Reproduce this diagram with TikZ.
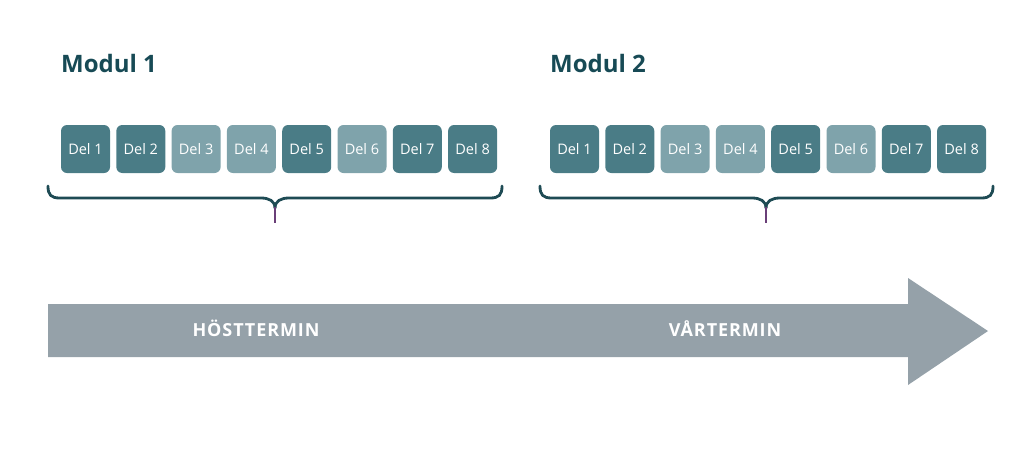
\documentclass[tikz,border=0pt]{standalone}
\usepackage{fontspec}
\setmainfont{Open Sans}
\newfontfamily\titlefont{Open Sans}
\newfontfamily\delfont{Open Sans}
\newfontfamily\termfont{Open Sans}[LetterSpace=5]
\definecolor{darkbox}{HTML}{4A7C86}
\definecolor{lightbox}{HTML}{7FA3AB}
\definecolor{titlecol}{HTML}{174A55}
\definecolor{bracecol}{HTML}{1E4B54}
\definecolor{bracetip}{HTML}{6A3F78}
\definecolor{arrowcol}{HTML}{95A1A9}
\begin{document}
\begin{tikzpicture}[x=1pt,y=-1pt,
  delbox/.style={rounded corners=6pt,minimum width=49pt,minimum height=48pt,inner sep=0pt,text=white,font=\delfont\fontsize{14.5}{15}\selectfont},
  dk/.style={delbox,fill=darkbox},
  lt/.style={delbox,fill=lightbox},
  title/.style={anchor=west,text=titlecol,font=\titlefont\bfseries\fontsize{24}{26}\selectfont,inner sep=0pt},
  term/.style={text=white,font=\termfont\bfseries\fontsize{18}{20}\selectfont,inner sep=0pt},
  bracepath/.style={draw=bracecol,line width=2.8pt,line cap=round}]
\useasboundingbox (0,0) rectangle (1023,451);
% titles
\node[title] (m1) at (61,63) {Modul 1};
\node[title] (m2) at (550,63) {Modul 2};
% boxes
\foreach \m/\xs in {a/85.5,b/574.5}{
  \foreach \i/\s in {1/dk,2/dk,3/lt,4/lt,5/dk,6/lt,7/dk,8/dk}{
    \node[\s] (\m\i) at ({\xs+(\i-1)*55.3},149) {Del \i};
  }
}
% braces
\foreach \l/\c/\r in {48/275/502, 540/766/993}{
  \draw[bracepath] (\l,186) .. controls (\l,195) and (\l+3,198) .. (\l+12,198)
     -- (\c-14,198) .. controls (\c-6,198) and (\c,201) .. (\c,208);
  \draw[bracepath] (\r,186) .. controls (\r,195) and (\r-3,198) .. (\r-12,198)
     -- (\c+14,198) .. controls (\c+6,198) and (\c,201) .. (\c,208);
  \draw[draw=bracetip,line width=2.8pt] (\c,207) -- (\c,223);
}
% arrow
\fill[arrowcol] (48,304) -- (908,304) -- (908,278) -- (988,331) -- (908,385) -- (908,357) -- (48,357) -- cycle;
\node[term] (ht) at (256,328) {HÖSTTERMIN};
\node[term] (vt) at (725,329) {VÅRTERMIN};
\end{tikzpicture}
\end{document}
